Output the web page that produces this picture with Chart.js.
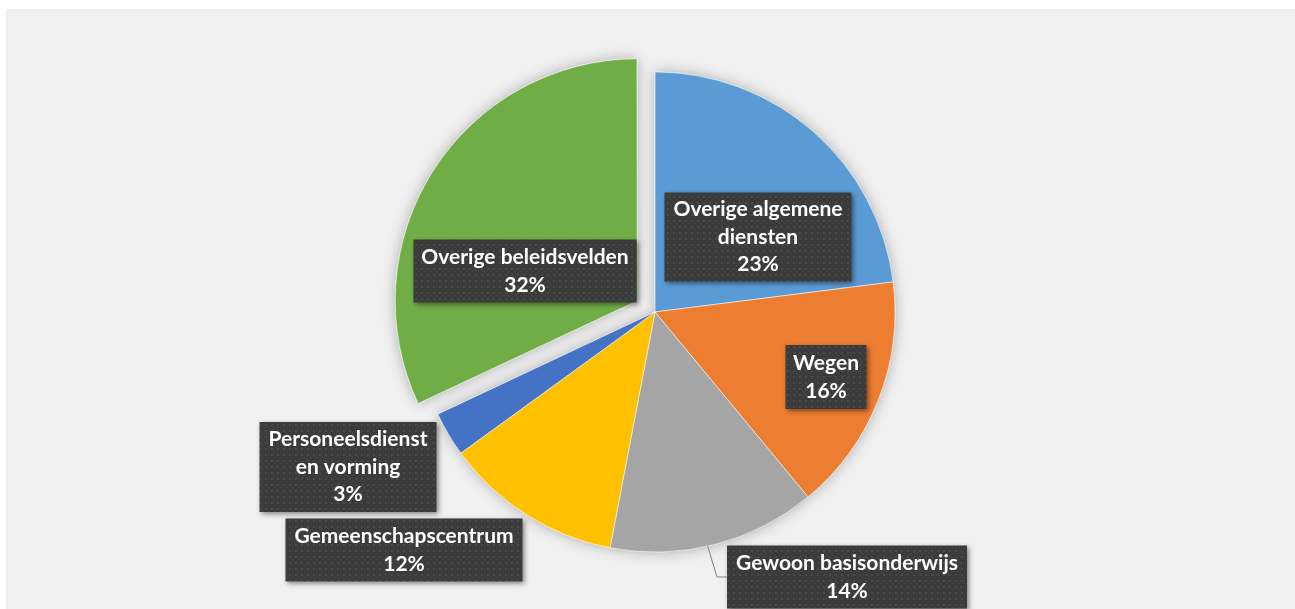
<!DOCTYPE html>
<html>
<head>
<meta charset="utf-8">
<script src="https://cdn.jsdelivr.net/npm/chart.js@4/dist/chart.umd.min.js"></script>
<style>
  html, body { margin: 0; padding: 0; background: #fff; }
  #wrap { position: absolute; left: 6px; top: 9px; width: 1289px; height: 600px; background: #f0f0f0; }
</style>
</head>
<body>
<div id="wrap"><canvas id="chart-pie"></canvas></div>
<script>
/* eslint-disable no-undef */
const categories = ['Overige algemene diensten', 'Wegen', 'Gewoon basisonderwijs', 'Gemeenschapscentrum', 'Personeelsdienst en vorming', 'Overige beleidsvelden']
const labelLines = [['Overige algemene', 'diensten'], ['Wegen'], ['Gewoon basisonderwijs'], ['Gemeenschapscentrum'], ['Personeelsdienst', 'en vorming'], ['Overige beleidsvelden']]
const shares = [23, 16, 14, 12, 3, 32]
const colors = ['#5b9bd5', '#ed7d31', '#a5a5a5', '#ffc000', '#4472c4', '#70ad47']
// Chart.js moves an arc by offset / 4, so 84 gives ~21px
const explode = [0, 0, 0, 0, 0, 84]

// label box layout: center offset from pie center, box size, leader line
const labelBoxes = [
  { dx: 103, dy: -75, w: 187, h: 89 },
  { dx: 171, dy: 65, w: 81, h: 64 },
  { dx: 192, dy: 265, w: 240, h: 63, leader: true },
  { dx: -251, dy: 238, w: 237, h: 63 },
  { dx: -307, dy: 155, w: 177, h: 90 },
  { dx: -130, dy: -41, w: 223, h: 63 }
]

function makePattern (ctx) {
  const p = document.createElement('canvas')
  p.width = 6
  p.height = 6
  const c = p.getContext('2d')
  c.fillStyle = '#3b3b3b'
  c.fillRect(0, 0, 6, 6)
  c.fillStyle = '#4a4a4a'
  c.fillRect(1, 1, 2, 2)
  c.fillRect(4, 4, 1, 1)
  return ctx.createPattern(p, 'repeat')
}

const pieShadow = {
  id: 'pieShadow',
  beforeDatasetsDraw (chart) {
    const ctx = chart.ctx
    ctx.save()
    ctx.shadowColor = 'rgba(0,0,0,0.28)'
    ctx.shadowBlur = 14
    chart.getDatasetMeta(0).data.forEach(a => a.draw(ctx))
    ctx.restore()
  }
}

const boxLabels = {
  id: 'boxLabels',
  afterDatasetsDraw (chart) {
    const ctx = chart.ctx
    const arcs = chart.getDatasetMeta(0).data
    const cx = arcs[0].x
    const cy = arcs[0].y
    const pattern = makePattern(ctx)
    const total = shares.reduce((a, b) => a + b, 0)
    arcs.forEach((arc, i) => {
      const b = labelBoxes[i]
      const bx = cx + b.dx - b.w / 2
      const by = cy + b.dy - b.h / 2
      if (b.leader) {
        const a = (arc.startAngle + arc.endAngle) / 2 + 0.03
        ctx.save()
        ctx.strokeStyle = '#7f7f7f'
        ctx.lineWidth = 1
        ctx.beginPath()
        ctx.moveTo(cx + Math.cos(a) * arc.outerRadius, cy + Math.sin(a) * arc.outerRadius)
        ctx.lineTo(bx - 10, cy + b.dy)
        ctx.lineTo(bx, cy + b.dy)
        ctx.stroke()
        ctx.restore()
      }
      ctx.save()
      ctx.shadowColor = 'rgba(0,0,0,0.45)'
      ctx.shadowBlur = 5
      ctx.shadowOffsetX = 2
      ctx.shadowOffsetY = 2
      ctx.fillStyle = pattern
      ctx.fillRect(bx, by, b.w, b.h)
      ctx.restore()
      const lines = labelLines[i].concat([Math.round(shares[i] / total * 100) + '%'])
      ctx.save()
      ctx.fillStyle = '#ffffff'
      ctx.font = 'bold 21px Lato'
      ctx.textAlign = 'center'
      ctx.textBaseline = 'middle'
      const lh = 27.5
      const top = cy + b.dy - (lines.length - 1) * lh / 2
      lines.forEach((t, k) => ctx.fillText(t, cx + b.dx, top + k * lh))
      ctx.restore()
    })
  }
}

const chartElement = document.getElementById('chart-pie').getContext('2d')

const pieChart = new Chart(chartElement, {
  type: 'pie',
  data: {
    labels: categories,
    datasets: [{
      data: shares,
      backgroundColor: colors,
      borderColor: 'rgba(255,255,255,0.55)',
      borderWidth: 1,
      offset: explode,
      radius: 240
    }]
  },
  options: {
    responsive: true,
    maintainAspectRatio: false,
    animation: false,
    layout: { padding: { left: 9, top: 6 } },
    plugins: {
      legend: { display: false },
      tooltip: { enabled: false }
    }
  },
  plugins: [pieShadow, boxLabels]
})
</script>
</body>
</html>
